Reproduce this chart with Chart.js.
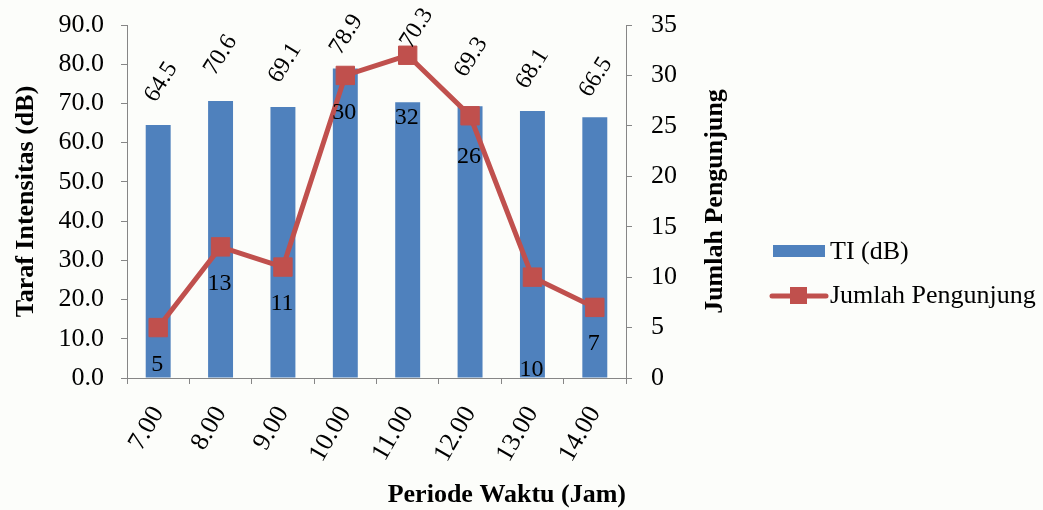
<!DOCTYPE html>
<html>
<head>
<meta charset="utf-8">
<script src="https://cdn.jsdelivr.net/npm/chart.js@4.4.0/dist/chart.umd.min.js"></script>
<style>
  html, body { margin: 0; padding: 0; background: #fcfdfa; }
  canvas { display: block; }
</style>
</head>
<body>
<canvas id="chart" width="1043" height="510"></canvas>
<script>
// Hourly observation periods
const periods = ['7.00', '8.00', '9.00', '10.00', '11.00', '12.00', '13.00', '14.00'];
// Sound intensity level per period (dB)
const tiValues = [64.5, 70.6, 69.1, 78.9, 70.3, 69.3, 68.1, 66.5];
// Visitor count per period
const visitorCounts = [5, 13, 11, 30, 32, 26, 10, 7];

const tiLabel = 'TI (dB)';
const visitorLabel = 'Jumlah Pengunjung';
const leftTitle = 'Taraf Intensitas (dB)';
const rightTitle = 'Jumlah Pengunjung';
const bottomTitle = 'Periode Waktu (Jam)';

const BAR_COLOR = '#4f81bd';
const LINE_COLOR = '#c0504d';
const AXIS_COLOR = '#868686';
const SERIF = '"Liberation Serif", "Times New Roman", Times, serif';

Chart.defaults.font.family = SERIF;
Chart.defaults.font.size = 26;
Chart.defaults.color = '#000';

// Value labels, right-hand axis title and legend
const annotate = {
  id: 'annotate',
  afterDatasetsDraw(chart, args, opts) {
    const ctx = chart.ctx;
    const bars = chart.getDatasetMeta(0).data;
    const points = chart.getDatasetMeta(1).data;
    ctx.save();
    ctx.fillStyle = '#000';
    ctx.textAlign = 'center';
    ctx.textBaseline = 'middle';

    // rotated bar values above each bar
    ctx.font = '24px ' + SERIF;
    bars.forEach((bar, i) => {
      const [dx, lift] = opts.barLabelShift[i];
      ctx.save();
      ctx.translate(bar.x + dx, bar.y - lift);
      ctx.rotate(-58 * Math.PI / 180);
      ctx.fillText(String(chart.data.datasets[0].data[i]), 0, 0);
      ctx.restore();
    });

    // visitor counts below each marker
    ctx.font = '24px ' + SERIF;
    points.forEach((p, i) => {
      ctx.fillText(String(chart.data.datasets[1].data[i]), p.x - 1, p.y + opts.countLabelDrop[i]);
    });
    ctx.restore();
  },
  afterDraw(chart) {
    const ctx = chart.ctx;
    const area = chart.chartArea;
    ctx.save();
    ctx.fillStyle = '#000';

    // right axis title, reading bottom to top
    ctx.font = 'bold 26px ' + SERIF;
    ctx.textAlign = 'center';
    ctx.textBaseline = 'middle';
    ctx.translate(715, (area.top + area.bottom) / 2);
    ctx.rotate(-Math.PI / 2);
    ctx.fillText(rightTitle, 0, 0);
    ctx.restore();

    // legend
    const ds = chart.data.datasets;
    ctx.save();
    ctx.fillStyle = ds[0].backgroundColor;
    ctx.fillRect(773, 245, 52, 12);
    ctx.strokeStyle = ds[1].borderColor;
    ctx.lineWidth = 5;
    ctx.lineCap = 'round';
    ctx.beginPath();
    ctx.moveTo(772, 296);
    ctx.lineTo(826, 296);
    ctx.stroke();
    ctx.fillStyle = ds[1].pointBackgroundColor;
    ctx.fillRect(790, 287, 17, 17);
    ctx.fillStyle = '#000';
    ctx.font = '26px ' + SERIF;
    ctx.textAlign = 'left';
    ctx.textBaseline = 'middle';
    ctx.fillText(ds[0].label, 830, 252);
    ctx.fillText(ds[1].label, 830, 296);
    ctx.restore();
  }
};

// vertical axes: fixed width, no extra room reserved for end labels
const fixVertical = width => scale => {
  scale.width = width;
  scale.paddingTop = 0;
  scale.paddingBottom = 0;
};

new Chart(document.getElementById('chart'), {
  data: {
    labels: periods,
    datasets: [
      {
        type: 'bar',
        label: tiLabel,
        data: tiValues,
        yAxisID: 'y',
        backgroundColor: BAR_COLOR,
        barPercentage: 0.4,
        categoryPercentage: 1.0,
        order: 2
      },
      {
        type: 'line',
        label: visitorLabel,
        data: visitorCounts,
        yAxisID: 'y1',
        borderColor: LINE_COLOR,
        borderWidth: 5,
        tension: 0,
        pointStyle: 'rect',
        pointRadius: 13,
        pointBackgroundColor: LINE_COLOR,
        pointBorderColor: LINE_COLOR,
        pointBorderWidth: 1,
        order: 1
      }
    ]
  },
  options: {
    responsive: false,
    animation: false,
    events: [],
    layout: { padding: { left: 0, right: 307, top: 25, bottom: 0 } },
    plugins: {
      legend: { display: false },
      tooltip: { enabled: false },
      annotate: {
        // label placement: [horizontal nudge, distance above bar top]
        barLabelShift: [[3, 43], [0, 46], [2, 44], [1, 34], [9, 74], [1, 49], [0, 42], [1, 40]],
        // distance of each count label below its marker
        countLabelDrop: [37, 37, 37, 37, 62, 41, 93, 36]
      }
    },
    scales: {
      x: {
        offset: true,
        grid: { display: true, offset: true, drawOnChartArea: false, drawTicks: true, tickLength: 6, color: AXIS_COLOR },
        border: { color: AXIS_COLOR, width: 1 },
        ticks: { minRotation: 60, maxRotation: 60, autoSkip: false, padding: 17, font: { size: 26 } },
        title: {
          display: true,
          text: bottomTitle,
          align: 'end',
          font: { size: 26, weight: 'bold', lineHeight: 1 },
          padding: { top: 0, bottom: 2 }
        },
        afterFit(scale) { scale.height = 132; }
      },
      y: {
        position: 'left',
        min: 0,
        max: 90,
        grid: { drawOnChartArea: false, drawTicks: true, tickLength: 6, color: AXIS_COLOR },
        border: { color: AXIS_COLOR, width: 1 },
        ticks: { stepSize: 10, padding: 17, callback: v => v.toFixed(1) },
        title: {
          display: true,
          text: leftTitle,
          font: { size: 26, weight: 'bold', lineHeight: 1 },
          padding: { top: 13, bottom: 0 }
        },
        afterFit: fixVertical(127)
      },
      y1: {
        position: 'right',
        min: 0,
        max: 35,
        grid: { drawOnChartArea: false, drawTicks: true, tickLength: 6, color: AXIS_COLOR },
        border: { color: AXIS_COLOR, width: 1 },
        ticks: { stepSize: 5, padding: 19 },
        afterFit: fixVertical(110)
      }
    }
  },
  plugins: [annotate]
});
</script>
</body>
</html>
